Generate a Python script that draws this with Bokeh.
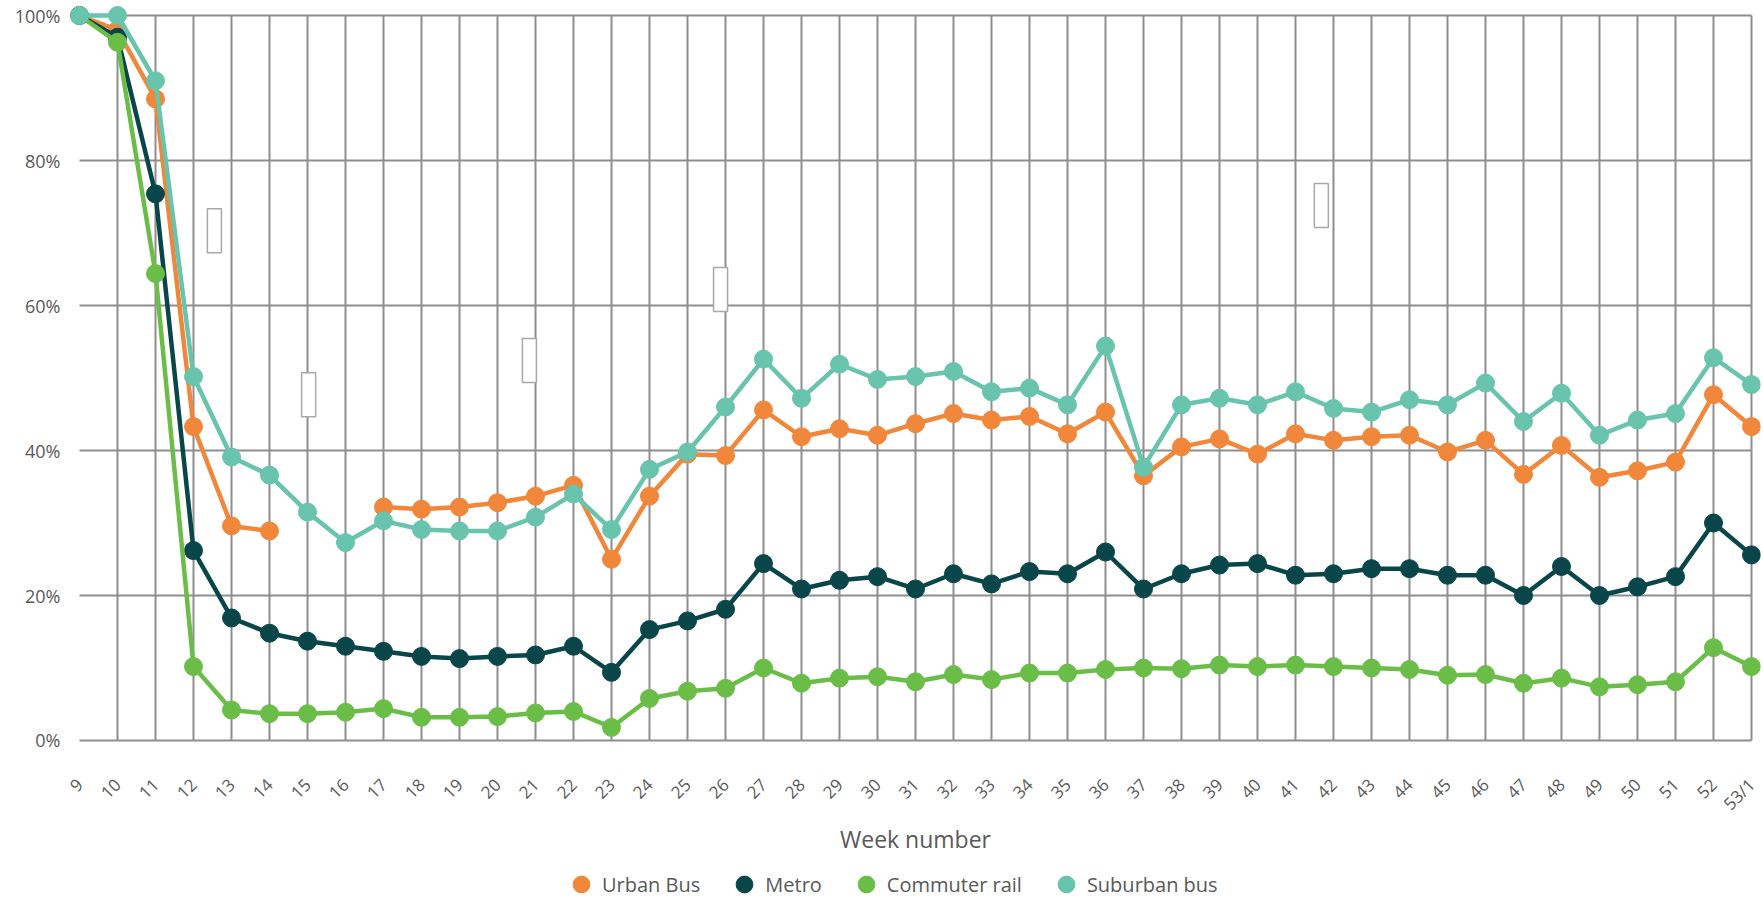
import math
import numpy as np
from bokeh.plotting import figure
from bokeh.models import (Range1d, FixedTicker, NumeralTickFormatter, Legend,
                          LegendItem, ColumnDataSource)
from bokeh.layouts import column
from bokeh.embed import file_html
from bokeh.resources import INLINE

nan = float("nan")

# ---------------- data ----------------
weeks = ["9", "10", "11", "12", "13", "14", "15", "16", "17", "18", "19", "20",
         "21", "22", "23", "24", "25", "26", "27", "28", "29", "30", "31", "32",
         "33", "34", "35", "36", "37", "38", "39", "40", "41", "42", "43", "44",
         "45", "46", "47", "48", "49", "50", "51", "52", "53/1"]

urban_bus = [1.00, 0.98, 0.885, 0.433, 0.296, 0.289, nan, nan, 0.322, 0.319,
             0.322, 0.328, 0.337, 0.352, 0.250, 0.337, 0.395, 0.393, 0.456, 0.419,
             0.430, 0.421, 0.437, 0.451, 0.442, 0.447, 0.423, 0.453, 0.365, 0.405,
             0.416, 0.395, 0.423, 0.414, 0.419, 0.421, 0.398, 0.414, 0.367, 0.407,
             0.363, 0.372, 0.384, 0.477, 0.433]

metro = [1.00, 0.97, 0.754, 0.262, 0.169, 0.148, 0.137, 0.130, 0.123, 0.116,
         0.113, 0.116, 0.118, 0.130, 0.094, 0.153, 0.165, 0.181, 0.244, 0.209,
         0.221, 0.226, 0.209, 0.230, 0.216, 0.233, 0.230, 0.260, 0.209, 0.230,
         0.242, 0.244, 0.228, 0.230, 0.237, 0.237, 0.228, 0.228, 0.200, 0.240,
         0.200, 0.212, 0.226, 0.300, 0.256]

commuter_rail = [1.00, 0.963, 0.644, 0.102, 0.042, 0.037, 0.037, 0.039, 0.044, 0.032,
                 0.032, 0.033, 0.038, 0.040, 0.018, 0.058, 0.068, 0.072, 0.100, 0.079,
                 0.086, 0.088, 0.081, 0.091, 0.084, 0.093, 0.093, 0.098, 0.100, 0.099,
                 0.104, 0.102, 0.104, 0.102, 0.100, 0.098, 0.090, 0.091, 0.079, 0.086,
                 0.074, 0.077, 0.081, 0.128, 0.102]

suburban_bus = [1.00, 1.00, 0.910, 0.502, 0.391, 0.366, 0.315, 0.273, 0.303, 0.291,
                0.289, 0.289, 0.308, 0.340, 0.291, 0.374, 0.398, 0.460, 0.526, 0.472,
                0.519, 0.498, 0.502, 0.509, 0.481, 0.486, 0.463, 0.544, 0.377, 0.463,
                0.472, 0.463, 0.481, 0.458, 0.453, 0.470, 0.463, 0.493, 0.440, 0.479,
                0.421, 0.442, 0.451, 0.528, 0.491]

series_names = ["Urban Bus", "Metro", "Commuter rail", "Suburban bus"]
series_values = [urban_bus, metro, commuter_rail, suburban_bus]
series_colors = ["#F0873A", "#08464A", "#6ABE48", "#68C4AC"]

y_ticks = [0.0, 0.2, 0.4, 0.6, 0.8, 1.0]

# empty data-label boxes left in the original chart (category index, value)
box_x = [3.55, 6.03, 11.84, 16.87, 32.68]
box_y = [0.703, 0.477, 0.524, 0.622, 0.738]

# ---------------- styling ----------------
FONT = "Open Sans"
TXT = "#595959"
GRID = "#8e8e8e"

n = len(weeks)
xs = list(range(n))

p = figure(width=1762, height=863,
           x_range=Range1d(-0.237, n - 1 + 0.237),
           y_range=Range1d(-0.00414, 1.0207),
           output_backend="svg", toolbar_location=None,
           min_border_left=70, min_border_right=2,
           min_border_top=0, min_border_bottom=120)
p.outline_line_color = None
p.xgrid.visible = False
p.ygrid.visible = False

# grid lines (drawn from the tick lists)
vx = xs[1:]
p.segment(x0=vx, y0=[y_ticks[0]] * len(vx), x1=vx, y1=[y_ticks[-1]] * len(vx),
          line_color=GRID, line_width=2)
p.segment(x0=[xs[0]] * len(y_ticks), y0=y_ticks, x1=[xs[-1]] * len(y_ticks), y1=y_ticks,
          line_color=GRID, line_width=2)

# empty label boxes
p.rect(x=box_x, y=box_y, width=14, height=44, width_units="screen",
       height_units="screen", fill_color="white", line_color="#a8a8a8",
       line_width=1.5)

for name, vals, color in zip(series_names, series_values, series_colors):
    src = ColumnDataSource(dict(x=xs, y=np.array(vals, dtype=float)))
    p.line("x", "y", source=src, line_color=color, line_width=4.5)
    p.scatter("x", "y", source=src, size=18, fill_color=color,
              line_color=color, line_width=1)

# x axis
p.xaxis.ticker = FixedTicker(ticks=xs)
p.xaxis.major_label_overrides = {i: w for i, w in enumerate(weeks)}
p.xaxis.major_label_orientation = math.pi / 4
p.xaxis.axis_line_color = None
p.xaxis.major_tick_line_color = None
p.xaxis.minor_tick_line_color = None
p.xaxis.major_tick_out = 0
p.xaxis.major_label_standoff = 38
p.xaxis.major_label_text_font = FONT
p.xaxis.major_label_text_font_size = "17px"
p.xaxis.major_label_text_color = TXT
p.xaxis.axis_label = "Week number"
p.xaxis.axis_label_standoff = -3
p.xaxis.axis_label_text_font = FONT
p.xaxis.axis_label_text_font_size = "23px"
p.xaxis.axis_label_text_font_style = "normal"
p.xaxis.axis_label_text_color = TXT

# y axis
p.yaxis.ticker = FixedTicker(ticks=y_ticks)
p.yaxis.formatter = NumeralTickFormatter(format="0%")
p.yaxis.axis_line_color = None
p.yaxis.major_tick_line_color = None
p.yaxis.minor_tick_line_color = None
p.yaxis.major_tick_out = 0
p.yaxis.major_label_standoff = 10
p.yaxis.major_label_text_font = FONT
p.yaxis.major_label_text_font_size = "18px"
p.yaxis.major_label_text_color = TXT

# legend strip (its frame is aligned with the main plot's frame)
p2 = figure(width=1762, height=42, x_range=Range1d(0, 1), y_range=Range1d(0, 1),
            output_backend="svg", toolbar_location=None, min_border=0,
            x_axis_location=None, y_axis_location=None)
p2.outline_line_color = None
p2.grid.visible = False
items = []
for name, color in zip(series_names, series_colors):
    r = p2.scatter(x=[5], y=[5], fill_color=color, line_color=color)
    items.append(LegendItem(label=name, renderers=[r]))
legend = Legend(items=items, location=(490, 0), orientation="horizontal",
                glyph_width=42, glyph_height=42, label_standoff=0, spacing=23,
                padding=0, margin=0, border_line_color=None,
                background_fill_alpha=0, label_text_font=FONT,
                label_text_font_size="20px", label_text_color=TXT)
p2.add_layout(legend)

layout = column(p, p2, spacing=0)
open("out.html", "w").write(file_html(layout, INLINE))
